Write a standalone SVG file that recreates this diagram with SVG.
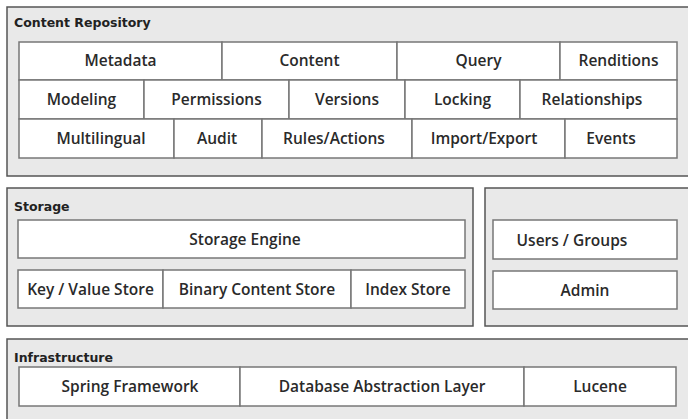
<svg xmlns="http://www.w3.org/2000/svg" width="688" height="419" viewBox="0 0 688 419">
<style>
.panel{fill:#e9e9e9;stroke:#555;stroke-width:1.5}
.box{fill:#fff;stroke:#777;stroke-width:1.5}
.t{font-family:"Open Sans",Lato,sans-serif;font-size:15.5px;font-weight:600;fill:#2a2a2a;text-anchor:middle}
.h{font-family:"DejaVu Sans",sans-serif;font-size:12.5px;font-weight:bold;fill:#222}
</style>
<rect width="688" height="419" fill="#fff"/>
<g id="content-repository">
<rect class="panel" x="7" y="7" width="682" height="169"/>
<text class="h" x="14" y="27">Content Repository</text>
<g id="metadata"><rect class="box" x="19" y="42" width="203" height="38"/><text class="t" x="120.5" y="66">Metadata</text></g>
<g id="content"><rect class="box" x="222" y="42" width="175" height="38"/><text class="t" x="309.5" y="66">Content</text></g>
<g id="query"><rect class="box" x="397" y="42" width="163" height="38"/><text class="t" x="478.5" y="66">Query</text></g>
<g id="renditions"><rect class="box" x="560" y="42" width="117" height="38"/><text class="t" x="618.5" y="66">Renditions</text></g>
<g id="modeling"><rect class="box" x="19" y="80" width="125" height="39"/><text class="t" x="81.5" y="105">Modeling</text></g>
<g id="permissions"><rect class="box" x="144" y="80" width="145" height="39"/><text class="t" x="216.5" y="105">Permissions</text></g>
<g id="versions"><rect class="box" x="289" y="80" width="116" height="39"/><text class="t" x="347" y="105">Versions</text></g>
<g id="locking"><rect class="box" x="405" y="80" width="115" height="39"/><text class="t" x="462.5" y="105">Locking</text></g>
<g id="relationships"><rect class="box" x="520" y="80" width="157" height="39"/><text class="t" x="592" y="105">Relationships</text></g>
<g id="multilingual"><rect class="box" x="19" y="119" width="155" height="39"/><text class="t" x="101" y="144">Multilingual</text></g>
<g id="audit"><rect class="box" x="174" y="119" width="88" height="39"/><text class="t" x="217" y="144">Audit</text></g>
<g id="rules-actions"><rect class="box" x="262" y="119" width="150" height="39"/><text class="t" x="334" y="144">Rules/Actions</text></g>
<g id="import-export"><rect class="box" x="412" y="119" width="153" height="39"/><text class="t" x="484" y="144">Import/Export</text></g>
<g id="events"><rect class="box" x="565" y="119" width="112" height="39"/><text class="t" x="611" y="144">Events</text></g>
</g>
<g id="storage">
<rect class="panel" x="7" y="188" width="466" height="138"/>
<text class="h" x="14" y="211">Storage</text>
<g id="storage-engine"><rect class="box" x="18" y="220" width="447" height="38"/><text class="t" x="245" y="245">Storage Engine</text></g>
<g id="key-value-store"><rect class="box" x="18" y="270" width="145" height="38"/><text class="t" x="90.5" y="295">Key / Value Store</text></g>
<g id="binary-content-store"><rect class="box" x="163" y="270" width="188" height="38"/><text class="t" x="257" y="295">Binary Content Store</text></g>
<g id="index-store"><rect class="box" x="351" y="270" width="114" height="38"/><text class="t" x="408" y="295">Index Store</text></g>
</g>
<g id="users-admin">
<rect class="panel" x="485" y="188" width="204" height="138"/>
<g id="users-groups"><rect class="box" x="493" y="220" width="184" height="39"/><text class="t" x="572" y="246">Users / Groups</text></g>
<g id="admin"><rect class="box" x="493" y="271" width="184" height="38"/><text class="t" x="585" y="296">Admin</text></g>
</g>
<g id="infrastructure">
<rect class="panel" x="7" y="339" width="682" height="90"/>
<text class="h" x="14" y="362">Infrastructure</text>
<g id="spring-framework"><rect class="box" x="19" y="367" width="221" height="39"/><text class="t" x="130" y="392">Spring Framework</text></g>
<g id="database-abstraction-layer"><rect class="box" x="240" y="367" width="284" height="39"/><text class="t" x="382" y="392">Database Abstraction Layer</text></g>
<g id="lucene"><rect class="box" x="524" y="367" width="152" height="39"/><text class="t" x="600" y="392">Lucene</text></g>
</g>
<g id="connectors"/>
</svg>
